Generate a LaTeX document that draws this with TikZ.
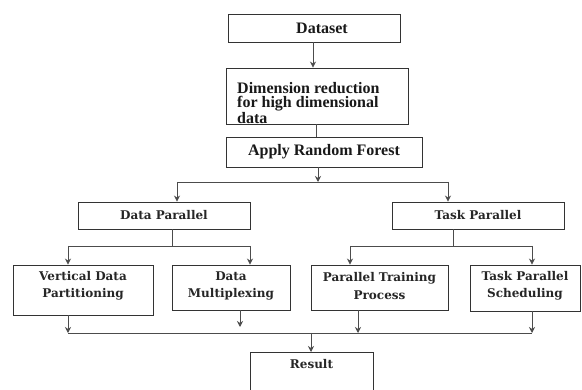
\documentclass[tikz,border=0pt]{standalone}
\usepackage{fontspec}
\setmainfont{Liberation Serif}
\newfontfamily\lowfont{DejaVu Serif}
\usetikzlibrary{arrows.meta}
\tikzset{
  box/.style={draw=black!80, line width=0.9pt, inner sep=0pt, rectangle},
  topfont/.style={font=\bfseries\fontsize{16}{14.5}\selectfont, text=black!90},
  lowtxt/.style={font=\lowfont\bfseries\fontsize{12}{17.5}\selectfont, text=black!85, align=center},
  conn/.style={draw=black!70, line width=0.8pt},
  arr/.style={conn, -{Stealth[length=6pt,width=6pt]}}
}
\begin{document}
\begin{tikzpicture}[x=1pt,y=-1pt]
\clip (0,0) rectangle (582,390);
\fill[white] (0,0) rectangle (582,390);
% top boxes
\node[box, topfont, minimum width=172pt, minimum height=28pt] (ds) at (314,28) {\hspace{16pt}Dataset};
\node[box, minimum width=182pt, minimum height=56pt] (dim) at (317,96) {};
\node[topfont, anchor=west, align=left, inner sep=0pt] (dimt) at (237,103) {Dimension reduction\\for high dimensional\\data};
\node[box, topfont, minimum width=196pt, minimum height=30pt] (arf) at (324,152) {Apply Random Forest};
% second level
\node[box, lowtxt, minimum width=172pt, minimum height=27pt] (dp) at (164,215.5) {Data Parallel};
\node[box, lowtxt, minimum width=172pt, minimum height=27pt] (tp) at (478,215.5) {Task Parallel};
% third level
\node[box, lowtxt, minimum width=140pt, minimum height=50pt] (vdp) at (83,290) {};
\node[lowtxt, inner sep=0pt] (vdpt) at (83,286) {Vertical Data\\Partitioning};
\node[box, lowtxt, minimum width=118pt, minimum height=45pt] (dm) at (231,287.5) {};
\node[lowtxt, inner sep=0pt] (dmt) at (231,286) {Data\\Multiplexing};
\node[box, lowtxt, minimum width=137pt, minimum height=45pt] (ptp) at (379.5,287.5) {};
\node[lowtxt, inner sep=0pt] (ptpt) at (379.5,286) {Parallel Training\\Process};
\node[box, lowtxt, minimum width=110pt, minimum height=46pt] (tps) at (525,288) {};
\node[lowtxt, inner sep=0pt] (tpst) at (525,286) {Task Parallel\\Scheduling};
% result
\node[box, minimum width=123pt, minimum height=60pt, anchor=north] (res) at (311.5,352) {};
\node[lowtxt, inner sep=0pt] (rest) at (311.5,364) {Result};
% coordinates
\coordinate (j1) at (318,182);
\coordinate (j1l) at (177,182);
\coordinate (j1r) at (448,182);
\coordinate (j2) at (172,246);
\coordinate (j2l) at (68,246);
\coordinate (j2r) at (250,246);
\coordinate (j3) at (453,246);
\coordinate (j3l) at (350,246);
\coordinate (j3r) at (532,246);
\coordinate (bl) at (68,333);
\coordinate (br) at (532,333);
\coordinate (bres) at (311,333);
\coordinate (dmend) at (240,327);
% connectors
\draw[arr] (ds.south -| 313,0) -- (dim.north -| 313,0);
\draw[conn] (dim.south -| 316,0) -- (arf.north -| 316,0);
\draw[arr] (arf.south -| j1) -- (j1);
\draw[conn] (j1l) -- (j1r);
\draw[arr] (j1l) -- (dp.north -| j1l);
\draw[arr] (j1r) -- (tp.north -| j1r);
\draw[conn] (dp.south -| j2) -- (j2);
\draw[conn] (j2l) -- (j2r);
\draw[arr] (j2l) -- (vdp.north -| j2l);
\draw[arr] (j2r) -- (dm.north -| j2r);
\draw[conn] (tp.south -| j3) -- (j3);
\draw[conn] (j3l) -- (j3r);
\draw[arr] (j3l) -- (ptp.north -| j3l);
\draw[arr] (j3r) -- (tps.north -| j3r);
\draw[arr] (vdp.south -| bl) -- (bl);
\draw[arr] (dm.south -| dmend) -- (dmend);
\draw[arr] (ptp.south -| 358,0) -- (358,333);
\draw[arr] (tps.south -| br) -- (br);
\draw[conn] (bl) -- (br);
\draw[arr] (bres) -- (res.north -| bres);
\end{tikzpicture}
\end{document}
